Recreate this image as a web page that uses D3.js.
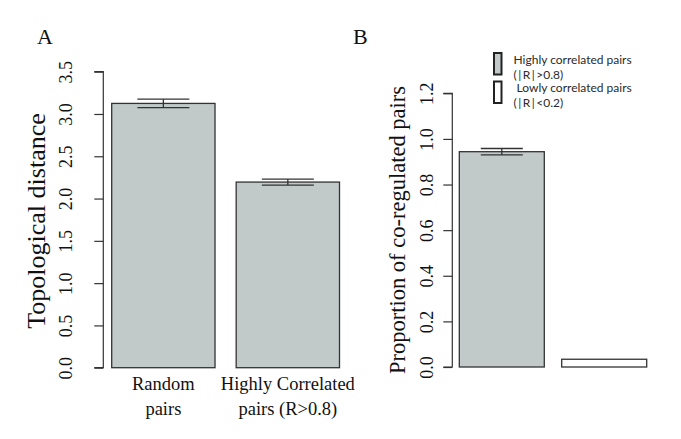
<!DOCTYPE html>
<html>
<head>
<meta charset="utf-8">
<script src="https://cdn.jsdelivr.net/npm/d3@7"></script>
<style>
  html, body { margin: 0; padding: 0; background: #fff; }
  svg { display: block; }
</style>
</head>
<body>
<svg id="chart" width="681" height="439"></svg>
<script>
// ---- Data ----
const categoriesA = ["Random\npairs", "Highly Correlated\npairs (R>0.8)"];
const valuesA = [3.125, 2.195];
const errorsA = [0.05, 0.035];
const ticksA = [0, 0.5, 1.0, 1.5, 2.0, 2.5, 3.0, 3.5];

const categoriesB = ["Highly correlated pairs\n(|R|>0.8)", " Lowly correlated pairs\n(|R|<0.2)"];
const valuesB = [0.944, 0.034];
const errorsB = [0.014, 0];
const ticksB = [0, 0.2, 0.4, 0.6, 0.8, 1.0, 1.2];

// ---- Styles ----
const fillsA = ["#c1cac9", "#c1cac9"];
const fillsB = ["#c1cac9", "#ffffff"];
const stroke = "#333333";
const serif = "'Liberation Serif', 'Times New Roman', serif";
const sans = "Lato, 'Open Sans', 'Liberation Sans', sans-serif";

const svg = d3.select("#chart");

function drawPanel(opts) {
  const g = svg.append("g");
  const x = d3.scaleBand().domain(opts.cats).range(opts.xRange).paddingInner(0.17).paddingOuter(0);
  const y = d3.scaleLinear().domain(opts.yDomain).range(opts.yRange);

  // axis
  const axis = d3.axisLeft(y).tickValues(opts.ticks).tickSize(9).tickPadding(0)
    .tickFormat(d3.format(".1f"));
  const ag = g.append("g").attr("transform", `translate(${opts.axisX},0)`).call(axis);
  ag.select(".domain").attr("d", `M-9,${y(opts.yDomain[1])}H0V${y(0)}H-9`).attr("stroke", stroke).attr("stroke-width", 1.2);
  ag.selectAll(".tick line").attr("stroke", stroke).attr("stroke-width", 1.2);
  ag.selectAll(".tick text")
    .attr("x", null).attr("dy", null)
    .attr("transform", `translate(${opts.tickLabelX - opts.axisX},0) rotate(-90)`)
    .attr("text-anchor", "middle")
    .attr("fill", "#111")
    .style("font-family", serif).style("font-size", opts.tickFont + "px");

  // bars
  g.selectAll("rect.bar").data(opts.values).enter().append("rect")
    .attr("class", "bar")
    .attr("x", (d, i) => x(opts.cats[i]))
    .attr("width", x.bandwidth())
    .attr("y", d => y(d))
    .attr("height", d => y(0) - y(d))
    .attr("fill", (d, i) => opts.fills[i])
    .attr("stroke", stroke).attr("stroke-width", 1.3);

  // error bars
  opts.values.forEach((v, i) => {
    const e = opts.errors[i];
    if (!e) return;
    const cx = x(opts.cats[i]) + x.bandwidth() / 2;
    const hw = opts.capHalf;
    const eg = g.append("g").attr("stroke", stroke).attr("stroke-width", 1.3);
    eg.append("line").attr("x1", cx).attr("x2", cx).attr("y1", y(v + e)).attr("y2", y(v - e));
    eg.append("line").attr("x1", cx - hw).attr("x2", cx + hw).attr("y1", y(v + e)).attr("y2", y(v + e));
    eg.append("line").attr("x1", cx - hw).attr("x2", cx + hw).attr("y1", y(v - e)).attr("y2", y(v - e));
  });

  // y label
  g.append("text")
    .attr("transform", `translate(${opts.yLabelX},${opts.yLabelY}) rotate(-90)`)
    .attr("text-anchor", "middle")
    .attr("fill", "#111")
    .style("font-family", serif).style("font-size", opts.yLabelFont + "px")
    .text(opts.yLabel);

  // panel letter
  g.append("text").attr("x", opts.letterX).attr("y", opts.letterY)
    .attr("fill", "#111")
    .style("font-family", serif).style("font-size", "22px")
    .text(opts.letter);

  return { g, x, y };
}

// Panel A
const A = drawPanel({
  cats: categoriesA, values: valuesA, errors: errorsA, ticks: ticksA, fills: fillsA,
  xRange: [111.7, 339.5], yDomain: [0, 3.5], yRange: [367.7, 71.7],
  axisX: 103.3, tickLabelX: 72, tickFont: 18, capHalf: 26,
  yLabel: "Topological distance", yLabelX: 45, yLabelY: 221, yLabelFont: 26,
  letter: "A", letterX: 37, letterY: 44
});
// category labels for A
categoriesA.forEach((c, i) => {
  const cx = A.x(c) + A.x.bandwidth() / 2;
  const lines = c.split("\n");
  const t = A.g.append("text").attr("text-anchor", "middle").attr("fill", "#111")
    .style("font-family", serif).style("font-size", "18.5px");
  lines.forEach((l, j) => t.append("tspan").attr("x", cx).attr("y", 390 + j * 25).text(l));
});

// Panel B
const B = drawPanel({
  cats: categoriesB, values: valuesB, errors: errorsB, ticks: ticksB, fills: fillsB,
  xRange: [459.3, 646.7], yDomain: [0, 1.2], yRange: [367, 93.3],
  axisX: 452.3, tickLabelX: 433, tickFont: 18, capHalf: 21,
  yLabel: "Proportion of co-regulated pairs", yLabelX: 405, yLabelY: 230, yLabelFont: 22.5,
  letter: "B", letterX: 353, letterY: 44
});

// legend for B
const legend = svg.append("g");
categoriesB.forEach((c, i) => {
  const top = 53 + i * 28.5;
  legend.append("rect").attr("x", 494).attr("y", top).attr("width", 7.5).attr("height", 21.5)
    .attr("fill", fillsB[i]).attr("stroke", "#222").attr("stroke-width", 2);
  const lines = c.split("\n");
  const t = legend.append("text").attr("fill", "#2a2a2a")
    .style("font-family", sans).style("font-size", "12px").style("white-space", "pre");
  lines.forEach((l, j) => t.append("tspan").attr("x", 513.5).attr("y", top + 10.5 + j * 15)
    .text(l.replace(/\|/g, "\u2009|\u2009")));
});
</script>
</body>
</html>
